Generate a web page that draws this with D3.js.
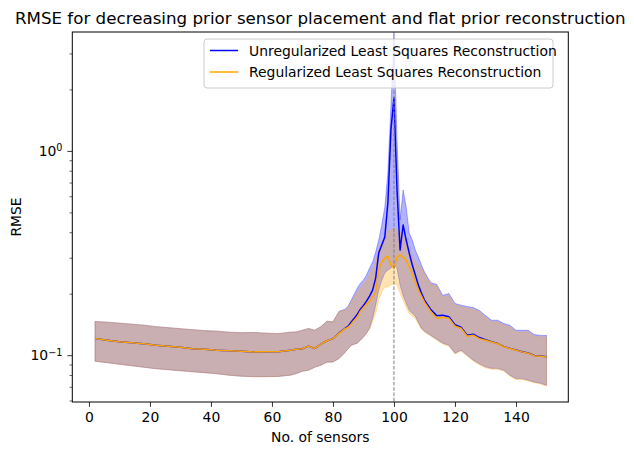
<!DOCTYPE html>
<html>
<head>
<meta charset="utf-8">
<script src="https://cdn.jsdelivr.net/npm/d3@7"></script>
<style>
  html,body{margin:0;padding:0;background:#fff;}
  svg{display:block;font-family:"DejaVu Sans",sans-serif;}
</style>
</head>
<body>
<div id="chart"></div>
<script>
const sensors=[2,6,10,14,18,22,26,30,34,38,42,46,50,54,58,62,66,68,70,72,74,76,78,80,82,84,
  85,86,87,88,89,90,91,92,93,94,95,96,97,98,99,100,101,102,103,104,105,106,107,108,109,110,
  112,114,116,118,120,122,124,126,128,130,132,134,136,138,140,142,144,146,148,150];

const unregMean=[0.1207,0.1184,0.1164,0.1151,0.1138,0.1119,0.1107,0.1094,0.1076,0.1070,0.1058,0.1052,0.1046,0.1038,0.1040,0.1040,0.1058,0.1070,0.1076,0.1107,0.1078,0.1132,0.1177,0.1205,0.1285,0.1355,
  0.1387,0.1456,0.1518,0.1588,0.1680,0.1749,0.1840,0.1946,0.2083,0.2384,0.3162,0.3461,0.3788,0.5559,1.267,1.819,0.6437,0.3271,0.4337,0.3662,0.3162,0.2762,0.2467,0.2203,0.2013,0.1861,
  0.1680,0.1562,0.1570,0.1544,0.1411,0.1371,0.1253,0.1267,0.1220,0.1191,0.1164,0.1140,0.1101,0.1080,0.1060,0.1040,0.1025,0.0996,0.0990,0.0983];
const unregHigh=[0.1462,0.1451,0.1435,0.1419,0.1403,0.1379,0.1364,0.1348,0.1333,0.1319,0.1311,0.1296,0.1289,0.1292,0.1282,0.1275,0.1296,0.1300,0.1326,0.1351,0.1326,0.1377,0.1467,0.1456,0.1640,0.1680,
  0.1739,0.1861,0.1991,0.2130,0.2253,0.2331,0.2467,0.2670,0.2857,0.3198,0.3662,0.4337,0.5315,0.7802,1.643,3.70,1.132,0.4589,0.6437,0.5315,0.3963,0.3662,0.3271,0.3022,0.2762,0.2552,
  0.2270,0.2220,0.1960,0.2005,0.1790,0.1757,0.1732,0.1711,0.1655,0.1563,0.1483,0.1483,0.1429,0.1402,0.1324,0.1324,0.1324,0.1262,0.1250,0.1250];
const unregLow=[0.0934,0.0919,0.0903,0.0888,0.0873,0.0859,0.0849,0.0839,0.0830,0.0821,0.0811,0.0798,0.0789,0.0785,0.0785,0.0787,0.0798,0.0813,0.0835,0.0844,0.0873,0.0893,0.0924,0.0927,0.0963,0.1034,
  0.1076,0.1119,0.1132,0.1145,0.1184,0.1227,0.1282,0.1356,0.1518,0.1758,0.2083,0.2331,0.2523,0.2610,0.2670,0.2762,0.2670,0.2203,0.1968,0.1799,0.1662,0.1606,0.1553,0.1451,0.1356,0.1311,
  0.1253,0.1198,0.1145,0.1119,0.1023,0.1058,0.1000,0.0945,0.0908,0.0877,0.0862,0.0862,0.0844,0.0798,0.0768,0.0768,0.0754,0.0740,0.0729,0.0713];

const regMean=[0.1207,0.1184,0.1164,0.1151,0.1138,0.1119,0.1107,0.1094,0.1076,0.1070,0.1058,0.1052,0.1046,0.1038,0.1040,0.1040,0.1058,0.1070,0.1076,0.1107,0.1078,0.1132,0.1177,0.1205,0.1278,0.1348,
  0.1371,0.1423,0.1484,0.1535,0.1643,0.1710,0.1778,0.1840,0.1924,0.2036,0.2610,0.2857,0.2988,0.3057,0.2762,0.2670,0.3022,0.3092,0.3022,0.2922,0.2700,0.2495,0.2279,0.2083,0.1946,0.1819,
  0.1643,0.1518,0.1535,0.1518,0.1387,0.1356,0.1239,0.1253,0.1205,0.1184,0.1161,0.1138,0.1099,0.1078,0.1058,0.1038,0.1023,0.0994,0.0988,0.0981];
const regHigh=[0.1462,0.1451,0.1435,0.1419,0.1403,0.1379,0.1364,0.1348,0.1333,0.1319,0.1311,0.1296,0.1289,0.1292,0.1282,0.1275,0.1296,0.1300,0.1326,0.1351,0.1326,0.1377,0.1467,0.1456,0.1630,0.1662,
  0.1719,0.1819,0.1924,0.2036,0.2130,0.2228,0.2331,0.2467,0.2670,0.2857,0.3271,0.3580,0.3831,0.4009,0.4101,0.4194,0.4101,0.4009,0.3831,0.3540,0.3271,0.3057,0.2857,0.2762,0.2670,0.2495,
  0.2228,0.2179,0.1924,0.1968,0.1758,0.1725,0.1700,0.1680,0.1625,0.1535,0.1456,0.1456,0.1403,0.1377,0.1300,0.1300,0.1300,0.1239,0.1227,0.1227];
const regLow=[0.0934,0.0919,0.0903,0.0888,0.0873,0.0859,0.0849,0.0839,0.0830,0.0821,0.0811,0.0798,0.0789,0.0785,0.0785,0.0787,0.0798,0.0813,0.0835,0.0844,0.0873,0.0893,0.0924,0.0927,0.0963,0.1034,
  0.1076,0.1119,0.1132,0.1145,0.1184,0.1227,0.1282,0.1341,0.1467,0.1606,0.1861,0.2036,0.2154,0.2154,0.2203,0.2253,0.2203,0.2013,0.1861,0.1719,0.1606,0.1553,0.1518,0.1419,0.1341,0.1296,
  0.1240,0.1186,0.1133,0.1108,0.1013,0.1047,0.0990,0.0936,0.0899,0.0868,0.0853,0.0853,0.0836,0.0790,0.0760,0.0760,0.0747,0.0733,0.0722,0.0706];

const xTicks=[0,20,40,60,80,100,120,140];
const yMajor=[0.1,1];
const yMinor=[0.06,0.07,0.08,0.09,0.2,0.3,0.4,0.5,0.6,0.7,0.8,0.9,2,3];
const switchPoint=100;
const seriesNames=["Unregularized Least Squares Reconstruction","Regularized Least Squares Reconstruction"];

(function(){
  const W=634,H=455;
  const m={l:72.3,t:32,r:65.7,b:53};
  const pw=W-m.l-m.r, ph=H-m.t-m.b;
  const fs=13.9;

  const svg=d3.select("#chart").append("svg").attr("width",W).attr("height",H);

  const x=d3.scaleLinear().domain([-5.45,157.15]).range([m.l,m.l+pw]);
  const y=d3.scaleLog().domain([0.059,3.82]).range([m.t+ph,m.t]);

  svg.append("defs").append("clipPath").attr("id","plot")
    .append("rect").attr("x",m.l).attr("y",m.t).attr("width",pw).attr("height",ph);

  const plot=svg.append("g").attr("clip-path","url(#plot)");
  const idx=d3.range(sensors.length);

  const band=(lo,hi)=>d3.area().x(i=>x(sensors[i])).y0(i=>y(lo[i])).y1(i=>y(hi[i]));
  const line=vals=>d3.line().x(i=>x(sensors[i])).y(i=>y(vals[i]));

  // shaded spreads first, mean lines on top
  plot.append("path").attr("d",band(unregLow,unregHigh)(idx))
    .attr("fill","#0000ff").attr("fill-opacity",0.3)
    .attr("stroke","#0000ff").attr("stroke-opacity",0.3).attr("stroke-width",1);
  plot.append("path").attr("d",band(regLow,regHigh)(idx))
    .attr("fill","#ffa500").attr("fill-opacity",0.3)
    .attr("stroke","#ffa500").attr("stroke-opacity",0.3).attr("stroke-width",1);
  plot.append("path").attr("d",line(unregMean)(idx))
    .attr("fill","none").attr("stroke","#0000ff").attr("stroke-width",1.5).attr("stroke-linejoin","round");
  plot.append("path").attr("d",line(regMean)(idx))
    .attr("fill","none").attr("stroke","#ffa500").attr("stroke-width",1.5).attr("stroke-linejoin","round");

  plot.append("line")
    .attr("x1",x(switchPoint)).attr("x2",x(switchPoint))
    .attr("y1",m.t).attr("y2",m.t+ph)
    .attr("stroke","#808080").attr("stroke-width",1).attr("stroke-dasharray","3.7,1.6");

  // x axis
  const gx=svg.append("g").attr("transform",`translate(0,${m.t+ph})`)
    .call(d3.axisBottom(x).tickValues(xTicks).tickSize(4.9).tickPadding(4.9).tickSizeOuter(0));
  gx.select(".domain").remove();
  gx.selectAll("text").attr("font-size",fs).attr("font-family","DejaVu Sans").attr("fill","#000");
  gx.selectAll("line").attr("stroke","#000").attr("stroke-width",0.8);

  // y axis: minor ticks, then labelled decades
  const gyMinor=svg.append("g").attr("transform",`translate(${m.l},0)`)
    .call(d3.axisLeft(y).tickValues(yMinor).tickSize(2.8).tickFormat(""));
  gyMinor.select(".domain").remove();
  gyMinor.selectAll("line").attr("stroke","#000").attr("stroke-width",0.6);

  const gy=svg.append("g").attr("transform",`translate(${m.l},0)`)
    .call(d3.axisLeft(y).tickValues(yMajor).tickSize(4.9).tickPadding(4.9).tickFormat(""));
  gy.select(".domain").remove();
  gy.selectAll("line").attr("stroke","#000").attr("stroke-width",0.8);
  gy.selectAll("text").each(function(d){
    const t=d3.select(this).attr("font-size",fs).attr("font-family","DejaVu Sans").attr("fill","#000");
    t.append("tspan").text("10");
    t.append("tspan").attr("dy","-0.45em").attr("font-size",fs*0.7)
      .text(String(Math.round(Math.log10(d))).replace("-","\u2212"));
  });

  // frame
  svg.append("rect").attr("x",m.l).attr("y",m.t).attr("width",pw).attr("height",ph)
    .attr("fill","none").attr("stroke","#000").attr("stroke-width",1);

  // labels
  svg.append("text").attr("x",m.l+pw/2).attr("y",24)
    .attr("text-anchor","middle").attr("font-size",16.7)
    .text("RMSE for decreasing prior sensor placement and flat prior reconstruction");
  svg.append("text").attr("x",m.l+pw/2).attr("y",442)
    .attr("text-anchor","middle").attr("font-size",fs).text("No. of sensors");
  svg.append("text").attr("transform",`translate(21,${m.t+ph/2}) rotate(-90)`)
    .attr("text-anchor","middle").attr("font-size",fs).text("RMSE");

  // legend
  const lg=svg.append("g");
  lg.append("rect").attr("x",204).attr("y",39).attr("width",349).attr("height",49).attr("rx",3)
    .attr("fill","#fff").attr("fill-opacity",0.8).attr("stroke","#cccccc").attr("stroke-width",1);
  const colors=["#0000ff","#ffa500"];
  seriesNames.forEach((name,i)=>{
    const cy=50.5+i*21.5;
    lg.append("line").attr("x1",210).attr("x2",238).attr("y1",cy).attr("y2",cy)
      .attr("stroke",colors[i]).attr("stroke-width",1.5);
    lg.append("text").attr("x",249).attr("y",cy+5).attr("font-size",fs).text(name);
  });
})();
</script>
</body>
</html>
